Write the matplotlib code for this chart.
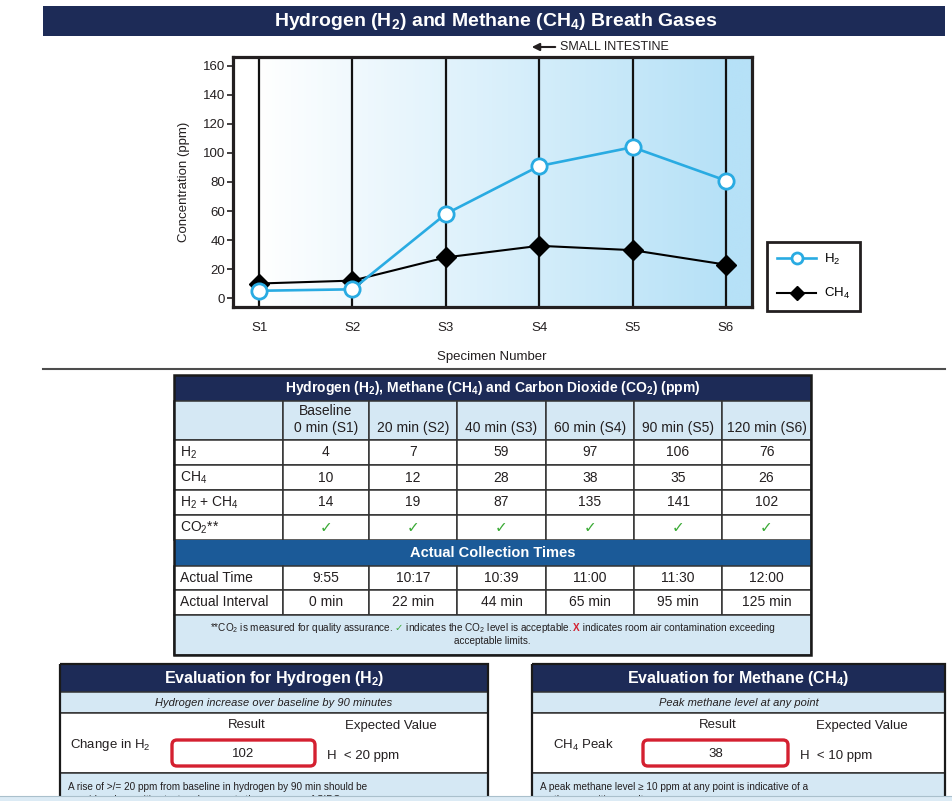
import numpy as np
import matplotlib
matplotlib.use('Agg')
import matplotlib.pyplot as plt
from matplotlib.patches import Rectangle, FancyBboxPatch
from matplotlib.colors import to_rgb

plt.rcParams['font.family'] = ['Liberation Sans', 'DejaVu Sans']
plt.rcParams['mathtext.default'] = 'regular'

# ---- data ----
specimens = ['S1', 'S2', 'S3', 'S4', 'S5', 'S6']
h2_plot = [5, 6, 58, 91, 104, 81]
ch4_plot = [10, 12, 28, 36, 33, 23]

col_heads = ['Baseline\n0 min (S1)', '20 min (S2)', '40 min (S3)',
             '60 min (S4)', '90 min (S5)', '120 min (S6)']
row_labels = ['H$_2$', 'CH$_4$', 'H$_2$ + CH$_4$', 'CO$_2$**']
h2_ppm = [4, 7, 59, 97, 106, 76]
ch4_ppm = [10, 12, 28, 38, 35, 26]
sum_ppm = [14, 19, 87, 135, 141, 102]
co2_ok = [True, True, True, True, True, True]
actual_time = ['9:55', '10:17', '10:39', '11:00', '11:30', '12:00']
actual_interval = ['0 min', '22 min', '44 min', '65 min', '95 min', '125 min']
h2_change = 102
ch4_peak = 38

NAVY = '#1d2b57'
MIDBLUE = '#1b5a98'
PALE = '#d5e8f4'
DARK = '#231f20'
LINE = '#333333'
H2C = '#29abe2'

fig = plt.figure(figsize=(9.52, 8.01), dpi=100)
bg = fig.add_axes([0, 0, 1, 1], zorder=0)
bg.set_xlim(0, 952)
bg.set_ylim(801, 0)
bg.axis('off')


def box(x0, y0, x1, y1, fc, ec='none', lw=0, z=1):
    bg.add_patch(Rectangle((x0, y0), x1 - x0, y1 - y0, fc=fc, ec=ec, lw=lw, zorder=z))


def txt(x, y, s, **kw):
    kw.setdefault('va', 'center')
    kw.setdefault('ha', 'center')
    kw.setdefault('color', DARK)
    kw.setdefault('zorder', 5)
    return bg.text(x, y, s, **kw)


# ---- title banner ----
box(43, 6, 945, 36, NAVY)
txt(496, 21, 'Hydrogen (H$_2$) and Methane (CH$_4$) Breath Gases', color='white',
    fontsize=14, fontweight='bold')

# small intestine arrow
bg.annotate('', xy=(529, 47), xytext=(558, 47),
            arrowprops=dict(arrowstyle='-|>', color=DARK, lw=1.5, mutation_scale=11))
txt(560, 47, 'SMALL INTESTINE', ha='left', fontsize=9)

# ---- chart ----
ax = fig.add_axes([233 / 952, 1 - 307 / 801, 519 / 952, 250 / 801], zorder=2)
x = np.arange(len(specimens))
xl = (-0.28, 5.28)
yl = (-6.2, 166.2)
xg = np.linspace(xl[0], xl[1], 800)
t = np.clip(xg / 5.0, 0, 1)
c0 = np.array(to_rgb('#ffffff'))
c1 = np.array(to_rgb('#b6e1f7'))
img = (c0 + (c1 - c0) * t[:, None])[None, :, :]
ax.imshow(img, extent=(xl[0], xl[1], yl[0], yl[1]), aspect='auto', zorder=0,
          interpolation='bilinear')
for xi in x:
    ax.axvline(xi, color='#111111', lw=1.6, zorder=1)

ch4_line, = ax.plot(x, ch4_plot, color='black', lw=1.5, marker='D', ms=10.5,
                    mfc='black', mec='black', zorder=3, label='CH$_4$')
h2_line, = ax.plot(x, h2_plot, color=H2C, lw=1.9, marker='o', ms=11,
                   mfc='white', mec=H2C, mew=2, zorder=4, label='H$_2$')
ax.set_xlim(*xl)
ax.set_ylim(*yl)
for s in ax.spines.values():
    s.set_linewidth(2.3)
    s.set_color(DARK)
ax.set_yticks(range(0, 161, 20))
ax.tick_params(axis='y', direction='out', length=4, width=1.2, labelsize=9.5,
               pad=1.5, colors=DARK)
ax.set_xticks(x, specimens)
ax.tick_params(axis='x', length=0, pad=11, labelsize=9.5, colors=DARK)

txt(184, 182, 'Concentration (ppm)', rotation=90, fontsize=9.5)
txt(492, 357, 'Specimen Number', fontsize=9.5)

leg = ax.legend(handles=[h2_line, ch4_line], loc='upper left',
                bbox_to_anchor=(767 / 952, 1 - 242 / 801), bbox_transform=fig.transFigure,
                frameon=True, fancybox=False, edgecolor=DARK, fontsize=9.5,
                markerscale=0.72, handlelength=3.0, handletextpad=0.6,
                borderpad=0.75, labelspacing=1.45, borderaxespad=0, framealpha=1)
leg.get_frame().set_linewidth(2)

bg.plot([43, 945], [369, 369], color='#4d4d4d', lw=1.5, zorder=2)

# ---- table ----
cols = [174, 283, 369, 457, 546, 634, 722, 811]
tx0, tx1 = cols[0], cols[-1]
tmid = (tx0 + tx1) / 2
box(tx0, 375, tx1, 401, NAVY)
txt(tmid, 388, 'Hydrogen (H$_2$), Methane (CH$_4$) and Carbon Dioxide (CO$_2$) (ppm)',
    color='white', fontsize=10, fontweight='bold')

for i in range(7):
    box(cols[i], 401, cols[i + 1], 440, PALE, ec=LINE, lw=1.1)
for j, h in enumerate(col_heads):
    cx = (cols[j + 1] + cols[j + 2]) / 2
    if '\n' in h:
        a, b = h.split('\n')
        txt(cx, 411, a, fontsize=10)
        txt(cx, 428, b, fontsize=10)
    else:
        txt(cx, 428, h, fontsize=10)

rows = [h2_ppm, ch4_ppm, sum_ppm, co2_ok]
ry = [440, 465, 490, 515, 540]
for r, vals in enumerate(rows):
    y0, y1 = ry[r], ry[r + 1]
    for i in range(7):
        box(cols[i], y0, cols[i + 1], y1, 'white', ec=LINE, lw=1.1)
    txt(180, (y0 + y1) / 2, row_labels[r], ha='left', fontsize=10)
    for j, v in enumerate(vals):
        cx = (cols[j + 1] + cols[j + 2]) / 2
        if isinstance(v, bool):
            txt(cx, (y0 + y1) / 2 + 1, '✓' if v else 'X', fontsize=11,
                color='#3aaa35' if v else '#d42030')
        else:
            txt(cx, (y0 + y1) / 2, str(v), fontsize=10)

box(tx0, 540, tx1, 566, MIDBLUE)
txt(tmid, 553, 'Actual Collection Times', color='white', fontsize=10.5, fontweight='bold')

ry2 = [566, 590, 615]
for r, (lab, vals) in enumerate([('Actual Time', actual_time),
                                 ('Actual Interval', actual_interval)]):
    y0, y1 = ry2[r], ry2[r + 1]
    for i in range(7):
        box(cols[i], y0, cols[i + 1], y1, 'white', ec=LINE, lw=1.1)
    txt(180, (y0 + y1) / 2, lab, ha='left', fontsize=10)
    for j, v in enumerate(vals):
        txt((cols[j + 1] + cols[j + 2]) / 2, (y0 + y1) / 2, v, fontsize=10)

box(tx0, 615, tx1, 655, PALE, ec=LINE, lw=1.1)
bg.add_patch(Rectangle((tx0, 375), tx1 - tx0, 655 - 375, fc='none', ec='#1a1a1a',
                       lw=1.8, zorder=6))

# footnote with coloured pieces
pieces = [('**CO$_2$ is measured for quality assurance. ', dict(color=DARK)),
          ('✓', dict(color='#3aaa35')),
          (' indicates the CO$_2$ level is acceptable. ', dict(color=DARK)),
          ('X', dict(color='#d42030', fontweight='bold')),
          (' indicates room air contamination exceeding', dict(color=DARK))]
rend = fig.canvas.get_renderer()
objs = []
widths = []
for s, kw in pieces:
    o = bg.text(0, 631, s, fontsize=7.2, va='baseline', ha='left', zorder=5, **kw)
    objs.append(o)
    widths.append(o.get_window_extent(renderer=rend).width)
xpos = tmid - sum(widths) / 2
for o, w in zip(objs, widths):
    o.set_x(xpos)
    xpos += w
txt(tmid, 641, 'acceptable limits.', fontsize=7.2)


# ---- evaluation boxes ----
def eval_box(x0, x1, title, subtitle, label, label_x, rbox, result, res_x,
             exp_x, expected, notes):
    mid = (x0 + x1) / 2
    box(x0, 664, x1, 692, NAVY, z=1)
    txt(mid, 678, title, color='white', fontsize=11.5, fontweight='bold')
    box(x0, 692, x1, 713, PALE, ec=LINE, lw=1.1)
    txt(mid, 703, subtitle, fontsize=8, style='italic')
    box(x0, 713, x1, 773, 'white', ec=LINE, lw=1.1)
    box(x0, 773, x1, 815, PALE, ec=LINE, lw=1.1)
    bg.add_patch(Rectangle((x0, 664), x1 - x0, 815 - 664, fc='none', ec='#1a1a1a',
                           lw=1.6, zorder=6))
    txt(res_x, 725, 'Result', fontsize=9.5)
    txt(exp_x, 726, 'Expected Value', fontsize=9.5)
    txt(label_x, 745, label, ha='left', fontsize=9.5)
    bg.add_patch(FancyBboxPatch((rbox[0], 740), rbox[1] - rbox[0], 26,
                                boxstyle='round,pad=0,rounding_size=5',
                                fc='white', ec='#d42030', lw=2.4, zorder=4))
    txt((rbox[0] + rbox[1]) / 2, 754, str(result), fontsize=9.5)
    txt(rbox[1] + 12, 756, expected, ha='left', fontsize=9.5)
    txt(x0 + 8, 787, notes[0], ha='left', fontsize=7.2)
    txt(x0 + 8, 800, notes[1], ha='left', fontsize=7.2)


eval_box(60, 488, 'Evaluation for Hydrogen (H$_2$)',
         'Hydrogen increase over baseline by 90 minutes',
         'Change in H$_2$', 70, (172, 315), h2_change, 247, 391, 'H  < 20 ppm',
         ['A rise of >/= 20 ppm from baseline in hydrogen by 90 min should be',
          'considered a positive test and suggests the presence of SIBO.'])
eval_box(532, 945, 'Evaluation for Methane (CH$_4$)',
         'Peak methane level at any point',
         'CH$_4$ Peak', 553, (643, 788), ch4_peak, 718, 862, 'H  < 10 ppm',
         ['A peak methane level \u2265 10 ppm at any point is indicative of a',
          'methane-positive result.'])

# bottom strip
box(0, 796, 952, 801, '#dcebf5', z=10)
bg.plot([0, 952], [796, 796], color='#aac0cc', lw=0.8, zorder=11)

fig.savefig('out.png', dpi=100)
